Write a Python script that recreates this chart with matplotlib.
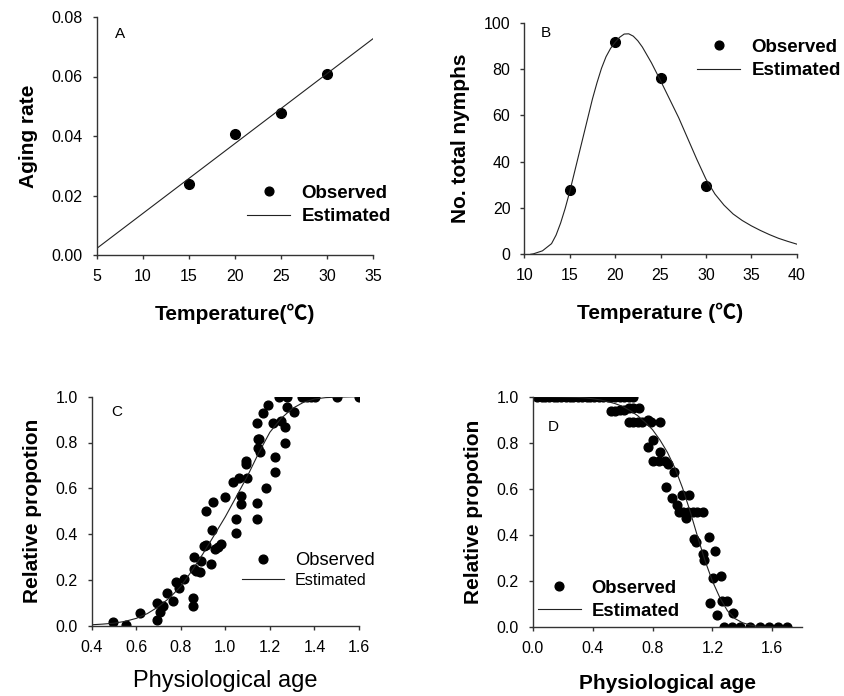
import matplotlib
matplotlib.use("Agg")
import matplotlib.pyplot as plt

plt.rcParams['font.family'] = ['Liberation Sans', 'Noto Sans CJK SC', 'DejaVu Sans']

# ---- panel A: aging rate vs temperature
a_temp = [15, 20, 25, 30]
a_rate = [0.0237, 0.0408, 0.0476, 0.0608]
a_fit_temp = [5, 35]
a_fit_rate = [0.0022, 0.0727]

# ---- panel B: number of nymphs vs temperature
b_temp = [15, 20, 25, 30]
b_nymphs = [27.8, 91.8, 76.0, 29.6]
b_fit_temp = [10.7, 11, 12, 13, 13.5, 14, 14.5, 15, 15.5, 16, 16.5, 17, 17.5, 18,
              18.5, 19, 19.5, 20, 20.5, 21, 21.5, 22, 22.5, 23, 24, 25,
              26, 27, 28, 29, 30, 31, 32, 33, 34, 35, 36, 37, 38, 39, 40]
b_fit_vals = [0.0, 0.2, 1.5, 4.6, 8.3, 13.5, 19.8, 27.0, 35.0, 43.0, 51.0, 59.0,
              67.0, 74.0, 80.3, 85.3, 88.9, 91.5, 93.7, 95.1, 95.2, 94.2, 92.2,
              89.5, 82.7, 75.0, 67.0, 59.0, 50.0, 41.0, 32.5, 26.0, 21.2,
              17.4, 14.6, 12.3, 10.3, 8.5, 6.9, 5.6, 4.4]

# ---- panel C: relative proportion (increasing)
c_age = [0.495, 0.552, 0.615, 0.695, 0.693, 0.708, 0.719, 0.738, 0.764, 0.779,
         0.791, 0.814, 0.854, 0.854, 0.859, 0.859, 0.866, 0.884, 0.889, 0.914,
         0.934, 0.941, 0.946, 0.903, 0.915, 0.955, 0.968, 0.980, 1.000, 1.033,
         1.048, 1.048, 1.063, 1.071, 1.071, 1.094, 1.097, 1.094, 1.142, 1.145,
         1.152, 1.147, 1.157, 1.144, 1.144, 1.169, 1.184, 1.192, 1.215, 1.225,
         1.225, 1.240, 1.249, 1.267, 1.267, 1.279, 1.279, 1.310, 1.346, 1.366,
         1.385, 1.403, 1.501, 1.600]
c_prop = [0.016, 0.004, 0.056, 0.099, 0.026, 0.058, 0.085, 0.143, 0.108, 0.190,
          0.166, 0.206, 0.122, 0.085, 0.300, 0.249, 0.238, 0.235, 0.283, 0.503,
          0.271, 0.420, 0.538, 0.349, 0.353, 0.333, 0.345, 0.355, 0.560, 0.626,
          0.466, 0.405, 0.647, 0.566, 0.531, 0.719, 0.643, 0.706, 0.886, 0.815,
          0.815, 0.778, 0.759, 0.534, 0.465, 0.929, 0.603, 0.964, 0.883, 0.735,
          0.672, 1.0, 0.893, 0.866, 0.800, 1.0, 0.953, 0.934, 1.0, 1.0,
          1.0, 1.0, 1.0, 1.0]
c_fit_age = [0.40, 0.45, 0.50, 0.55, 0.60, 0.65, 0.70, 0.75, 0.80, 0.85, 0.90,
             0.95, 1.00, 1.05, 1.10, 1.15, 1.20, 1.25, 1.30, 1.35, 1.40, 1.45,
             1.50, 1.55, 1.60]
c_fit_prop = [0.004, 0.007, 0.011, 0.019, 0.032, 0.053, 0.083, 0.122, 0.172,
              0.240, 0.315, 0.395, 0.476, 0.565, 0.655, 0.755, 0.845, 0.905,
              0.948, 0.975, 0.990, 0.996, 0.998, 0.999, 1.0]

# ---- panel D: relative proportion (decreasing)
d_age = [0.03, 0.06, 0.08, 0.11, 0.14, 0.16, 0.19, 0.22, 0.25, 0.27, 0.30, 0.33,
         0.36, 0.38, 0.41, 0.44, 0.47, 0.50, 0.52, 0.55, 0.58, 0.61, 0.64, 0.67,
         0.52, 0.55, 0.58, 0.61, 0.64, 0.67, 0.71,
         0.64, 0.67, 0.70, 0.73, 0.77, 0.79, 0.85,
         0.772, 0.805, 0.850, 0.805, 0.840, 0.883, 0.900, 0.945,
         0.893, 0.933, 0.995, 1.042, 0.963,
         0.975, 1.005, 1.035, 1.070, 1.100, 1.135,
         1.025, 1.080, 1.088, 1.179, 1.139, 1.143, 1.217, 1.206, 1.260, 1.184,
         1.265, 1.297, 1.230, 1.339,
         1.275, 1.328, 1.386, 1.451, 1.518, 1.577, 1.638, 1.696]
d_prop = [1.0] * 24 + \
         [0.939, 0.939, 0.942, 0.942, 0.952, 0.952, 0.952,
          0.889, 0.889, 0.889, 0.889, 0.899, 0.889, 0.889,
          0.783, 0.812, 0.762, 0.723, 0.723, 0.723, 0.706, 0.673,
          0.610, 0.562, 0.572, 0.572, 0.532,
          0.501, 0.501, 0.501, 0.501, 0.501, 0.501,
          0.472, 0.382, 0.372, 0.393, 0.320, 0.293, 0.332, 0.212, 0.223, 0.104,
          0.116, 0.116, 0.053, 0.063] + [0.0] * 8
d_fit_age = [0.0, 0.10, 0.20, 0.30, 0.35, 0.40, 0.45, 0.50, 0.55, 0.60, 0.65,
             0.70, 0.75, 0.80, 0.85, 0.90, 0.95, 1.00, 1.05, 1.10, 1.15, 1.20,
             1.25, 1.30, 1.35, 1.40, 1.45, 1.50, 1.55, 1.60, 1.70]
d_fit_prop = [1.0, 1.0, 0.999, 0.997, 0.995, 0.991, 0.986, 0.979, 0.970, 0.958,
              0.940, 0.918, 0.890, 0.857, 0.812, 0.758, 0.690, 0.605, 0.505,
              0.395, 0.290, 0.200, 0.128, 0.072, 0.038, 0.020, 0.010, 0.005,
              0.002, 0.001, 0.0]

W, H = 844, 696
fig = plt.figure(figsize=(W / 100, H / 100), dpi=100)


def make_ax(x0, x1, y0, y1):
    # pixel box -> figure fraction
    ax = fig.add_axes([x0 / W, 1 - y1 / H, (x1 - x0) / W, (y1 - y0) / H])
    for s in ['top', 'right']:
        ax.spines[s].set_visible(False)
    for s in ['left', 'bottom']:
        ax.spines[s].set_color('#333333')
        ax.spines[s].set_linewidth(1.0)
    ax.tick_params(direction='out', length=3, width=1, color='#333333',
                   labelsize=11.5, pad=7)
    return ax


fit_kw = dict(color='#222222', lw=0.8)
dot_kw = dict(color='black', ls='none', marker='o')
bold_lab = dict(fontsize=15, fontweight='bold')
leg_kw = dict(loc='upper left', frameon=False, borderpad=0, borderaxespad=0,
              handlelength=2.3, handletextpad=0.6, numpoints=1)

# A
axA = make_ax(96.7, 373, 17, 255)
axA.plot(a_temp, a_rate, ms=7, label='Observed', **dot_kw)
axA.plot(a_fit_temp, a_fit_rate, label='Estimated', **fit_kw)
axA.set_xlim(5, 35)
axA.set_ylim(0, 0.08)
axA.set_xticks([5, 10, 15, 20, 25, 30, 35])
axA.set_yticks([0, 0.02, 0.04, 0.06, 0.08])
axA.set_yticklabels(['0.00', '0.02', '0.04', '0.06', '0.08'])
axA.set_xlabel('Temperature(℃)', labelpad=14, **bold_lab)
axA.set_ylabel('Aging rate', labelpad=10, **bold_lab)
axA.text(0.067, 0.93, 'A', transform=axA.transAxes, fontsize=11, va='center')
axA.legend(bbox_to_anchor=(0.544, 0.295), labelspacing=0.33, markerscale=0.9,
           prop=dict(size=13.5, weight='bold'), **leg_kw)

# B
axB = make_ax(524.3, 796.7, 22.7, 254.3)
axB.plot(b_temp, b_nymphs, ms=7, label='Observed', **dot_kw)
axB.plot(b_fit_temp, b_fit_vals, label='Estimated', **fit_kw)
axB.set_xlim(10, 40)
axB.set_ylim(0, 100)
axB.set_xticks([10, 15, 20, 25, 30, 35, 40])
axB.set_yticks([0, 20, 40, 60, 80, 100])
axB.set_xlabel('Temperature (℃)', labelpad=14, **bold_lab)
axB.set_ylabel('No. total nymphs', labelpad=10, **bold_lab)
axB.text(0.06, 0.955, 'B', transform=axB.transAxes, fontsize=11, va='center')
axB.legend(bbox_to_anchor=(0.634, 0.93), labelspacing=0.33, markerscale=0.9,
           prop=dict(size=13.5, weight='bold'), **leg_kw)

# C
axC = make_ax(91.7, 359, 396.7, 625.7)
axC.plot(c_age, c_prop, ms=6.3, label='Observed', **dot_kw)
axC.plot(c_fit_age, c_fit_prop, label='Estimated', **fit_kw)
axC.set_xlim(0.4, 1.6)
axC.set_ylim(0, 1.0)
axC.set_xticks([0.4, 0.6, 0.8, 1.0, 1.2, 1.4, 1.6])
axC.set_yticks([0, 0.2, 0.4, 0.6, 0.8, 1.0])
axC.set_xlabel('Physiological age', labelpad=11, fontsize=17)
axC.set_ylabel('Relative propotion', labelpad=10, **bold_lab)
axC.text(0.075, 0.935, 'C', transform=axC.transAxes, fontsize=11, va='center')
legC = axC.legend(bbox_to_anchor=(0.562, 0.322), labelspacing=0.2,
                  markerscale=1.0, prop=dict(size=13.2), **leg_kw)
legC.get_texts()[1].set_fontsize(11.6)

# D
axD = make_ax(532.7, 802.3, 396.7, 627.3)
axD.plot(d_age, d_prop, ms=6.3, label='Observed', **dot_kw)
axD.plot(d_fit_age, d_fit_prop, label='Estimated', **fit_kw)
axD.set_xlim(0, 1.8)
axD.set_ylim(0, 1.0)
axD.set_xticks([0.0, 0.4, 0.8, 1.2, 1.6])
axD.set_yticks([0, 0.2, 0.4, 0.6, 0.8, 1.0])
axD.set_xlabel('Physiological age', labelpad=13, **bold_lab)
axD.set_ylabel('Relative propotion', labelpad=10, **bold_lab)
axD.text(0.057, 0.87, 'D', transform=axD.transAxes, fontsize=11, va='center')
axD.legend(bbox_to_anchor=(0.02, 0.207), labelspacing=0.33, markerscale=1.0,
           prop=dict(size=13.3, weight='bold'), **leg_kw)

fig.savefig('out.png', dpi=100)
